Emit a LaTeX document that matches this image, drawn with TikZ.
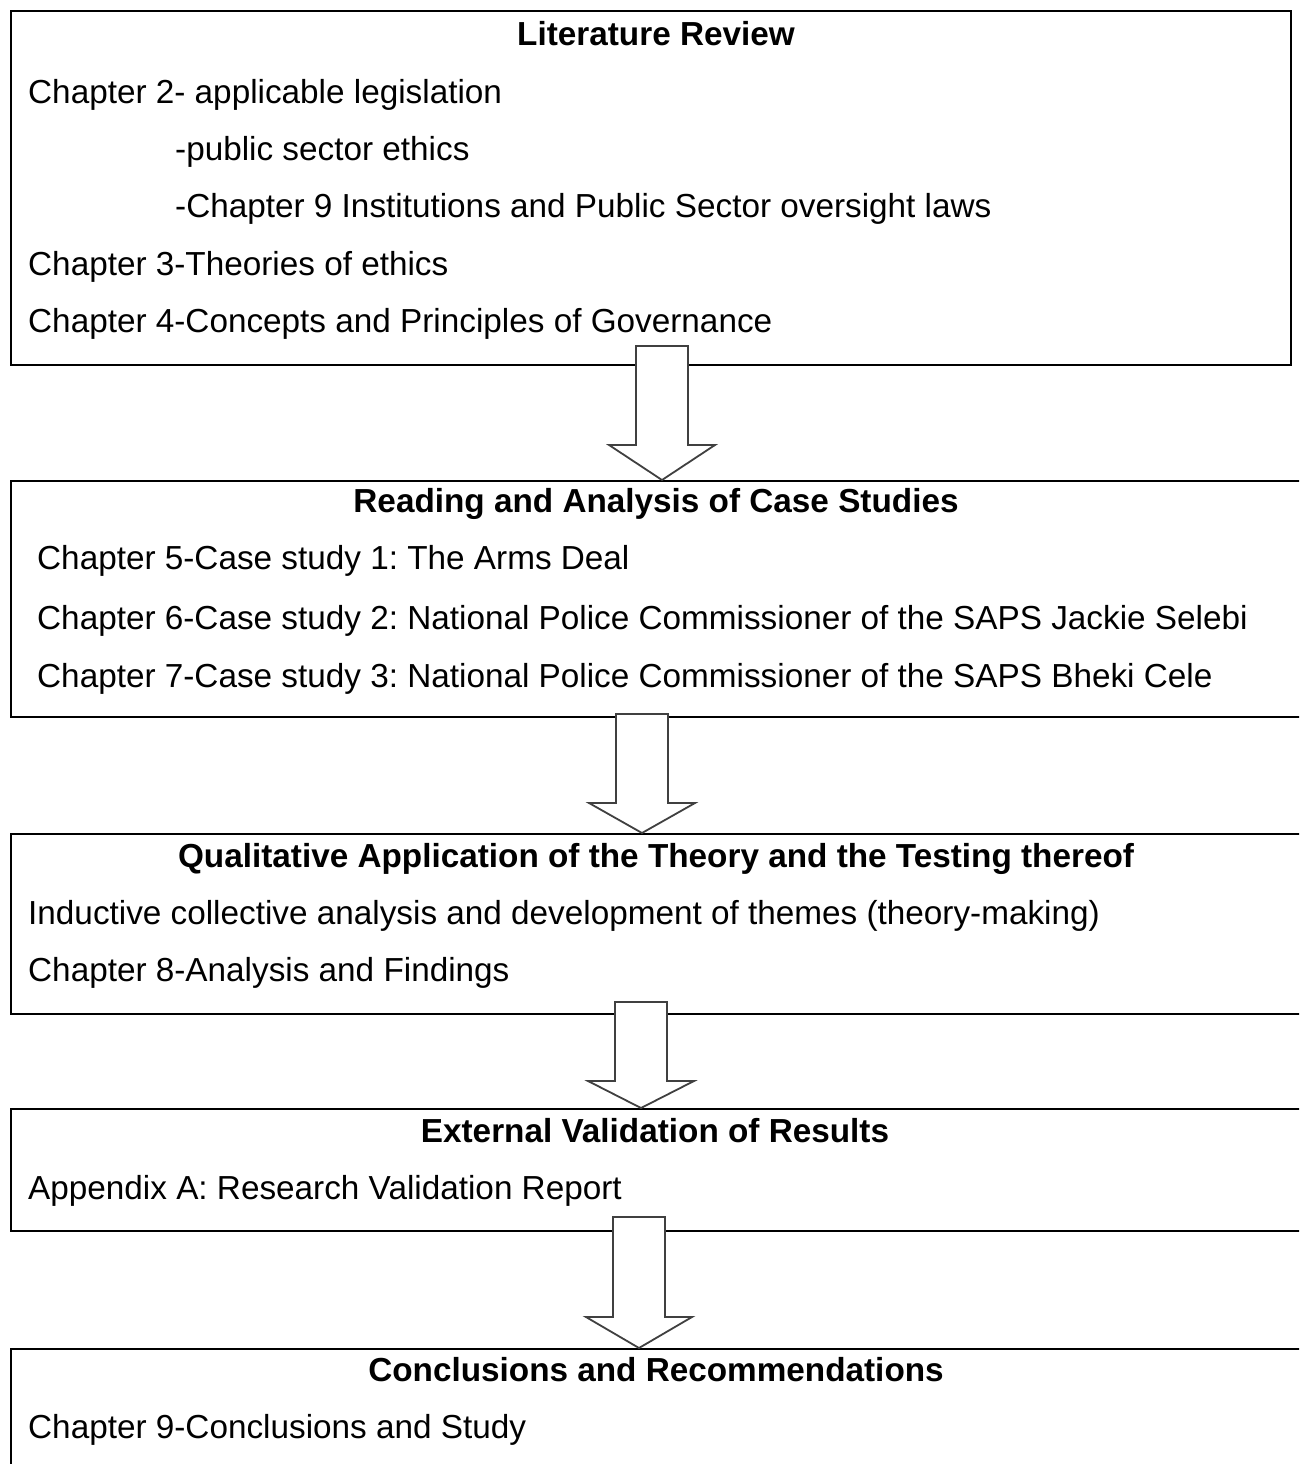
\documentclass[tikz,border=0pt]{standalone}
\usepackage{fontspec}
\setmainfont{Liberation Sans}
\usepackage{tikz}
\usetikzlibrary{calc}
\frenchspacing

\newcommand{\bodysize}{\fontsize{33.3}{40}\selectfont}
\tikzset{
  panel/.style={draw=black,line width=2pt,fill=white,anchor=north west,inner sep=0pt},
  head/.style={font=\bodysize\bfseries,anchor=base,inner sep=0pt},
  entry/.style={font=\bodysize,anchor=base west,inner sep=0pt},
  blockarrow/.style={draw=black!75,line width=1.8pt,fill=white,line join=miter}
}
% arrow from box #1 into box #2 at x-coordinate #3, top #4 above #1, head length #5
\newcommand{\flowarrow}[5]{%
  \draw[blockarrow] ($(#1.south -| #3)+(-26,-#4)$) -- ++(52,0)
    -- ($(#2.north -| #3)+(26,-#5)$) -- ++(27,0) -- (#2.north -| #3)
    -- ++(-53,-#5) -- ++(27,0) -- cycle;}

\begin{document}
\begin{tikzpicture}[x=1pt,y=-1pt]
          \clip (0,0) rectangle (1299,1464);
          \fill[white] (0,0) rectangle (1299,1464);
          \node[panel,minimum width=1280pt,minimum height=354pt] (lit) at (10,10) {};
          \node[panel,minimum width=1320pt,minimum height=236pt] (cases) at (10,480) {};
          \node[panel,minimum width=1320pt,minimum height=180pt] (theory) at (10,833) {};
          \node[panel,minimum width=1320pt,minimum height=122pt] (valid) at (10,1108) {};
          \node[panel,minimum width=1320pt,minimum height=140pt] (concl) at (10,1348) {};
          \coordinate (ax1) at (662,0);
          \coordinate (ax2) at (642,0);
          \coordinate (ax3) at (641,0);
          \coordinate (ax4) at (639,0);
          \flowarrow{lit}{cases}{ax1}{20}{35}
          \flowarrow{cases}{theory}{ax2}{4}{30}
          \flowarrow{theory}{valid}{ax3}{13}{27}
          \flowarrow{valid}{concl}{ax4}{15}{31}
          \node[head] (lithead) at (656,46) {Literature Review};
          \node[entry] (ch2) at (28,103) {Chapter 2- applicable legislation};
          \node[entry] (ethics) at (175,160) {-public sector ethics};
          \node[entry] (oversight) at (175,217) {-Chapter 9 Institutions and Public Sector oversight laws};
          \node[entry] (ch3) at (28,275) {Chapter 3-Theories of ethics};
          \node[entry] (ch4) at (28,332) {Chapter 4-Concepts and Principles of Governance};
          \node[head] (caseshead) at (656,512) {Reading and Analysis of Case Studies};
          \node[entry] (ch5) at (37,569) {Chapter 5-Case study 1: The Arms Deal};
          \node[entry] (ch6) at (37,629) {Chapter 6-Case study 2: National Police Commissioner of the SAPS Jackie Selebi};
          \node[entry] (ch7) at (37,687) {Chapter 7-Case study 3: National Police Commissioner of the SAPS Bheki Cele};
          \node[head] (theoryhead) at (656,867) {Qualitative Application of the Theory and the Testing thereof};
          \node[entry] (themes) at (28,924) {Inductive collective analysis and development of themes (theory-making)};
          \node[entry] (ch8) at (28,981) {Chapter 8-Analysis and Findings};
          \node[head] (validhead) at (655,1142) {External Validation of Results};
          \node[entry] (appA) at (28,1199) {Appendix A: Research Validation Report};
          \node[head] (conclhead) at (656,1381) {Conclusions and Recommendations};
          \node[entry] (ch9) at (28,1438) {Chapter 9-Conclusions and Study};
        \end{tikzpicture}
\end{document}
